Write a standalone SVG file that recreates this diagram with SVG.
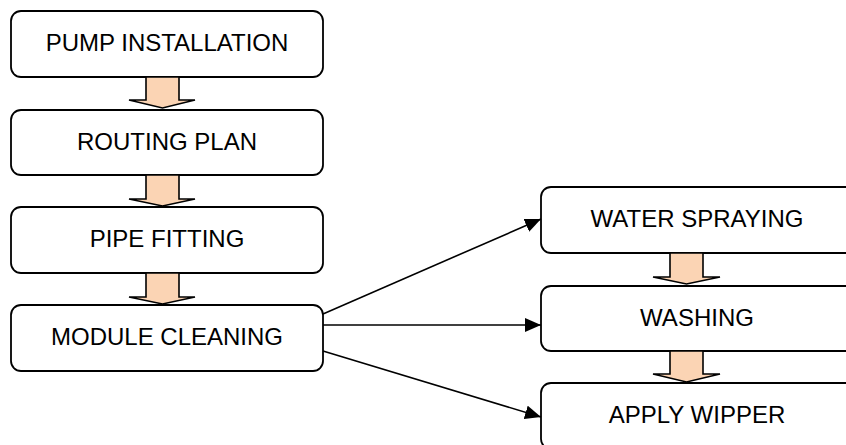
<svg xmlns="http://www.w3.org/2000/svg" width="846" height="445" viewBox="0 0 846 445">
<style>
.box{fill:#fff;stroke:#000;stroke-width:1.8}
.lbl{font-family:"Liberation Sans",Arial,sans-serif;font-size:24px;fill:#000;text-anchor:middle}
.blk{fill:#FBD4B4;stroke:#000;stroke-width:1.6;stroke-linejoin:miter}
.con{stroke:#000;stroke-width:1.6;fill:none}
</style>
<defs>
<marker id="ah" markerUnits="userSpaceOnUse" markerWidth="16" markerHeight="14" refX="16" refY="7" orient="auto">
<path d="M0,0 L16,7 L0,14 z" fill="#000"/>
</marker>
</defs>
<g id="n1"><rect class="box" x="11" y="11" width="312" height="66" rx="10"/><text class="lbl" x="167" y="51">PUMP INSTALLATION</text></g>
<g id="n2"><rect class="box" x="11" y="110" width="312" height="65" rx="10"/><text class="lbl" x="167" y="150">ROUTING PLAN</text></g>
<g id="n3"><rect class="box" x="11" y="207" width="312" height="66" rx="10"/><text class="lbl" x="167" y="247">PIPE FITTING</text></g>
<g id="n4"><rect class="box" x="11" y="305" width="312" height="66" rx="10"/><text class="lbl" x="167" y="345">MODULE CLEANING</text></g>
<g id="n5"><rect class="box" x="541" y="187" width="320" height="66" rx="10"/><text class="lbl" x="697" y="227">WATER SPRAYING</text></g>
<g id="n6"><rect class="box" x="541" y="286" width="320" height="65" rx="10"/><text class="lbl" x="697" y="326">WASHING</text></g>
<g id="n7"><rect class="box" x="541" y="383" width="320" height="66" rx="10"/><text class="lbl" x="697" y="423">APPLY WIPPER</text></g>
<g id="connectors">
<path class="blk" d="M146,77 L179,77 L179,100 L195,100 L162.5,108 L129,100 L146,100 Z"/>
<path class="blk" d="M146,175 L179,175 L179,199 L195,199 L162.5,206 L129,199 L146,199 Z"/>
<path class="blk" d="M146,273 L179,273 L179,297 L195,297 L162.5,304 L129,297 L146,297 Z"/>
<path class="blk" d="M670,253 L703,253 L703,277 L720,277 L686.5,284 L653,277 L670,277 Z"/>
<path class="blk" d="M670,351 L703,351 L703,374 L720,374 L686.5,382 L653,374 L670,374 Z"/>
<line class="con" x1="323" y1="314" x2="541" y2="219" marker-end="url(#ah)"/>
<line class="con" x1="323" y1="325" x2="541" y2="325" marker-end="url(#ah)"/>
<line class="con" x1="323" y1="351" x2="541" y2="417" marker-end="url(#ah)"/>
</g>
</svg>
